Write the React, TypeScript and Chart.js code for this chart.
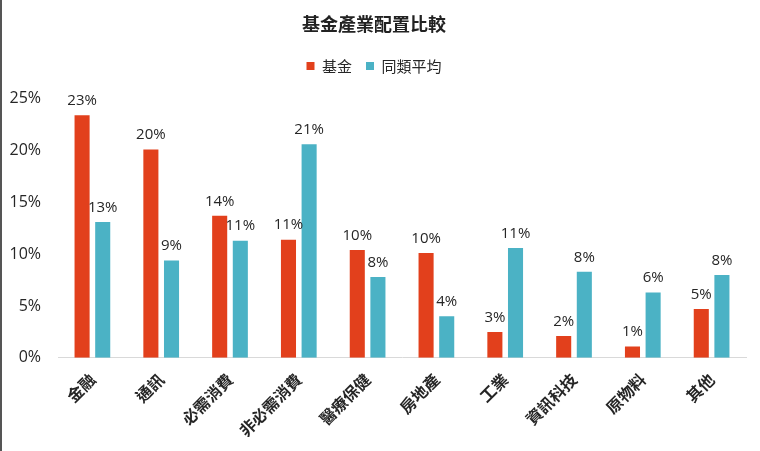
import React, { useEffect, useRef } from "react";
import { Chart, registerables } from "chart.js";

Chart.register(...registerables);

const categories = ["金融", "通訊", "必需消費", "非必需消費", "醫療保健", "房地產", "工業", "資訊科技", "原物料", "其他"];
const fundValues = [23.4, 20.1, 13.7, 11.4, 10.4, 10.1, 2.5, 2.1, 1.1, 4.7];
const peerValues = [13.1, 9.4, 11.3, 20.6, 7.8, 4.0, 10.6, 8.3, 6.3, 8.0];
const fundLabels = ["23%", "20%", "14%", "11%", "10%", "10%", "3%", "2%", "1%", "5%"];
const peerLabels = ["13%", "9%", "11%", "21%", "8%", "4%", "11%", "8%", "6%", "8%"];
const yTicks = [0, 5, 10, 15, 20, 25];

const FONT = "'Open Sans', 'Noto Sans CJK TC', sans-serif";
const CJK = "'Noto Sans CJK TC', 'Open Sans', sans-serif";

const labelPlugin = {
  id: "barLabels",
  afterDatasetsDraw(chart: any) {
    const ctx = chart.ctx;
    ctx.save();
    ctx.font = `15px ${FONT}`;
    ctx.fillStyle = "#262626";
    ctx.textAlign = "center";
    ctx.textBaseline = "bottom";
    const sets = [fundLabels, peerLabels];
    chart.data.datasets.forEach((_: any, di: number) => {
      const meta = chart.getDatasetMeta(di);
      meta.data.forEach((bar: any, i: number) => {
        ctx.fillText(sets[di][i], bar.x, bar.y - 7);
      });
    });
    ctx.restore();
  },
};

const legendSpace = {
  id: "legendSpace",
  beforeInit(chart: any) {
    const orig = chart.legend.fit;
    chart.legend.fit = function () {
      orig.call(this);
      this.height += 15;
    };
  },
};

export default function App() {
  const ref = useRef<HTMLCanvasElement>(null);
  useEffect(() => {
    document.body.style.margin = "0";
    const chart = new Chart(ref.current!, {
      type: "bar",
      data: {
        labels: categories,
        datasets: [
          { label: "基金", data: fundValues, backgroundColor: "#E2401C", categoryPercentage: 0.6, barPercentage: 0.73 },
          { label: "同類平均", data: peerValues, backgroundColor: "#4BB2C5", categoryPercentage: 0.6, barPercentage: 0.73 },
        ],
      },
      options: {
        animation: false,
        responsive: false,
        devicePixelRatio: 1,
        layout: { padding: { left: 0, right: 14, top: 13, bottom: 7 } },
        plugins: {
          title: {
            display: true,
            text: "基金產業配置比較",
            color: "#222",
            font: { family: CJK, size: 18, weight: "bold" },
            padding: { top: 0, bottom: 10 },
          },
          legend: {
            display: true,
            position: "top",
            labels: {
              boxWidth: 8,
              boxHeight: 8,
              color: "#262626",
              font: { family: CJK, size: 15 },
              padding: 14,
            },
          },
          tooltip: { enabled: false },
        },
        scales: {
          x: {
            grid: { display: false },
            border: { display: true, color: "#d9d9d9" },
            ticks: {
              color: "#262626",
              font: { family: CJK, size: 16, weight: "bold" },
              minRotation: 45,
              maxRotation: 45,
              padding: 4,
            },
          },
          y: {
            min: 0,
            max: 25,
            grid: { display: false, drawTicks: false },
            border: { display: false },
            afterBuildTicks: (axis: any) => {
              axis.ticks = yTicks.map((v) => ({ value: v }));
            },
            afterFit: (axis: any) => {
              axis.width = 56;
            },
            ticks: {
              color: "#262626",
              font: { family: FONT, size: 16 },
              padding: 17,
              callback: (v: any) => `${v}%`,
            },
          },
        },
      },
      plugins: [labelPlugin, legendSpace],
    });
    return () => chart.destroy();
  }, []);
  return (
    <div style={{ width: 760, height: 451, borderLeft: "2px solid #555", boxSizing: "border-box" }}>
      <canvas ref={ref} width={758} height={451} style={{ display: "block" }} />
    </div>
  );
}
